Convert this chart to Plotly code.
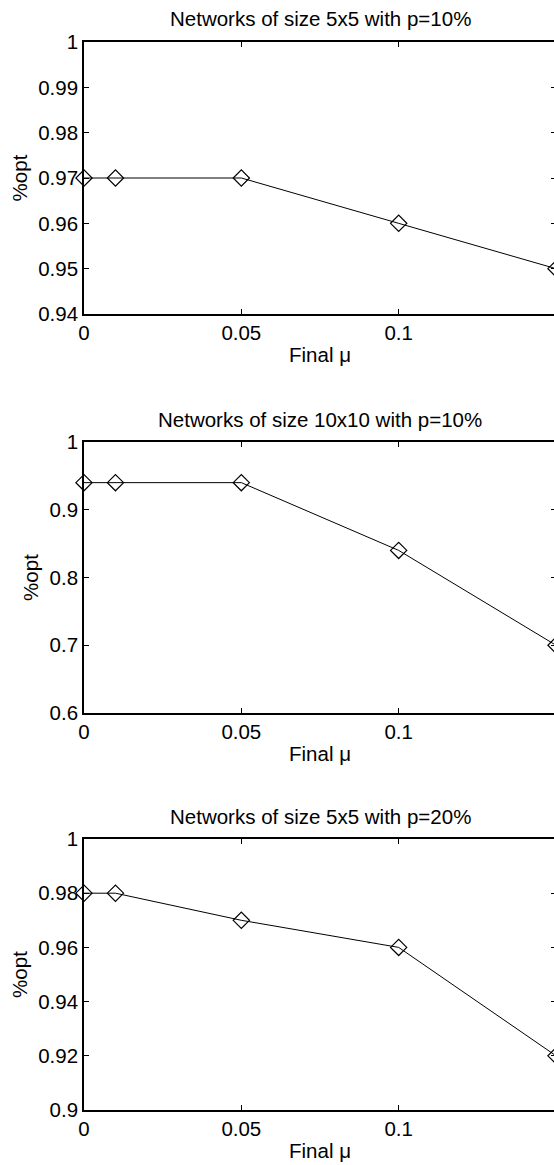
import plotly.graph_objects as go

# ---- data ----
mu_final = [0, 0.01, 0.05, 0.1, 0.15]
opt_5x5_p10 = [0.97, 0.97, 0.97, 0.96, 0.95]
opt_10x10_p10 = [0.94, 0.94, 0.94, 0.84, 0.70]
opt_5x5_p20 = [0.98, 0.98, 0.97, 0.96, 0.92]

titles = ["Networks of size 5x5 with p=10%",
          "Networks of size 10x10 with p=10%",
          "Networks of size 5x5 with p=20%"]

x_tickvals = [0, 0.05, 0.1]
x_ticktext = ["0", "0.05", "0.1"]

y1_tickvals = [0.94, 0.95, 0.96, 0.97, 0.98, 0.99, 1.0]
y1_ticktext = ["0.94", "0.95", "0.96", "0.97", "0.98", "0.99", "1"]
y2_tickvals = [0.6, 0.7, 0.8, 0.9, 1.0]
y2_ticktext = ["0.6", "0.7", "0.8", "0.9", "1"]
y3_tickvals = [0.9, 0.92, 0.94, 0.96, 0.98, 1.0]
y3_ticktext = ["0.9", "0.92", "0.94", "0.96", "0.98", "1"]

series = [opt_5x5_p10, opt_10x10_p10, opt_5x5_p20]
yranges = [[0.94, 1.0], [0.6, 1.0], [0.9, 1.0]]
yticks = [(y1_tickvals, y1_ticktext), (y2_tickvals, y2_ticktext), (y3_tickvals, y3_ticktext)]

W, H = 558, 1165  # slightly wider than the window so the right frame edge falls just outside
FONT = "Liberation Sans, Arial, Helvetica, sans-serif"
FS = 20.5

# page-pixel boxes (top, bottom) of each axes
boxes = [(42, 314), (442, 713), (839, 1110)]
x_left, x_right = 84, 556

fig = go.Figure()
layout = dict(
    template="none",
    width=W, height=H,
    margin=dict(l=0, r=0, t=0, b=0, pad=0),
    paper_bgcolor="white", plot_bgcolor="white",
    showlegend=False,
    font=dict(family=FONT, size=FS, color="black"),
)
annotations = []
for i, (ys, title, yr, (tv, tt), (top, bot)) in enumerate(zip(series, titles, yranges, yticks, boxes)):
    n = "" if i == 0 else str(i + 1)
    fig.add_trace(go.Scatter(
        x=mu_final, y=ys, mode="lines+markers",
        line=dict(color="black", width=1),
        marker=dict(symbol="diamond-open", size=12.5, color="black", line=dict(width=1.2, color="black")),
        cliponaxis=False,
        xaxis="x" + n, yaxis="y" + n,
    ))
    layout["xaxis" + n] = dict(
        domain=[x_left / W, x_right / W], range=[0, 0.15],
        anchor="y" + n,
        automargin=False,
        tickvals=x_tickvals, ticktext=x_ticktext,
        ticks="inside", ticklen=5, tickwidth=1, tickcolor="black",
        showline=True, linecolor="black", linewidth=1.6, mirror="ticks",
        showgrid=False, zeroline=False,
        tickfont=dict(family=FONT, size=FS),
        title=dict(text="Final \u03bc", font=dict(family=FONT, size=FS), standoff=4),
    )
    layout["yaxis" + n] = dict(
        domain=[1 - bot / H, 1 - top / H], range=yr, anchor="x" + n,
        automargin=False,
        tickvals=tv, ticktext=tt,
        ticks="inside", ticklen=5, tickwidth=1, tickcolor="black",
        showline=True, linecolor="black", linewidth=1.6, mirror="ticks",
        showgrid=False, zeroline=False,
        tickfont=dict(family=FONT, size=FS),
        title=dict(text="%opt", font=dict(family=FONT, size=FS), standoff=5),
    )
    annotations.append(dict(
        text=title, xref="paper", yref="paper",
        x=320 / W, y=1 - (top - 23) / H, xanchor="center", yanchor="middle",
        showarrow=False, font=dict(family=FONT, size=FS),
    ))
layout["annotations"] = annotations
fig.update_layout(**layout)
fig.write_html(
    "out.html",
    config={"displayModeBar": False},
    post_script="document.body.style.margin='0';document.body.style.overflow='hidden';",
)
